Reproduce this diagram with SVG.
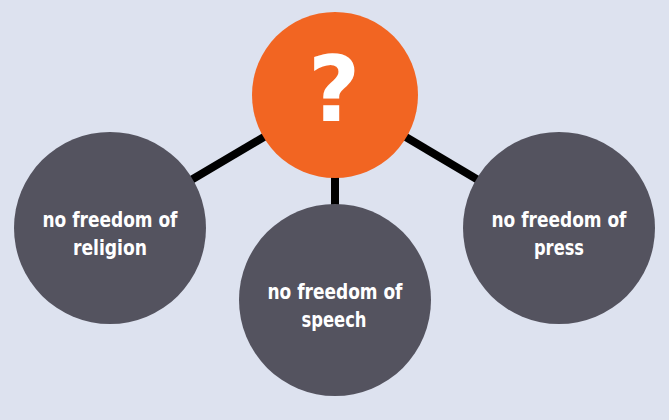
<svg xmlns="http://www.w3.org/2000/svg" width="669" height="420" viewBox="0 0 669 420">
<style>
.bg{fill:#dde2ef}
.node{fill:#54535f}
.hub{fill:#f26522}
.edge{stroke:#000;stroke-width:8;fill:none}
.lbl{fill:#fff;font-family:"DejaVu Sans Condensed","DejaVu Sans",sans-serif;font-weight:bold;font-size:21px;text-anchor:middle}
.q{fill:#fff;font-family:"DejaVu Sans","Liberation Sans",sans-serif;font-weight:bold;font-size:90px;text-anchor:middle}
</style>
<rect class="bg" x="0" y="0" width="669" height="420"/>
<g id="connectors">
<line class="edge" x1="335" y1="95" x2="110" y2="228"/>
<line class="edge" x1="335" y1="95" x2="335" y2="300"/>
<line class="edge" x1="335" y1="95" x2="559" y2="228"/>
</g>
<g id="hub">
<circle class="hub" cx="335" cy="95" r="83"/>
<text class="q" x="334" y="121">?</text>
</g>
<g id="religion">
<circle class="node" cx="110" cy="228" r="96"/>
<text class="lbl" x="110" y="227" textLength="135" lengthAdjust="spacingAndGlyphs">no freedom of</text>
<text class="lbl" x="110" y="255" textLength="74" lengthAdjust="spacingAndGlyphs">religion</text>
</g>
<g id="speech">
<circle class="node" cx="335" cy="300" r="96"/>
<text class="lbl" x="335" y="299" textLength="135" lengthAdjust="spacingAndGlyphs">no freedom of</text>
<text class="lbl" x="334" y="327" textLength="65" lengthAdjust="spacingAndGlyphs">speech</text>
</g>
<g id="press">
<circle class="node" cx="559" cy="228" r="96"/>
<text class="lbl" x="559" y="227" textLength="135" lengthAdjust="spacingAndGlyphs">no freedom of</text>
<text class="lbl" x="559" y="255" textLength="50" lengthAdjust="spacingAndGlyphs">press</text>
</g>
</svg>
